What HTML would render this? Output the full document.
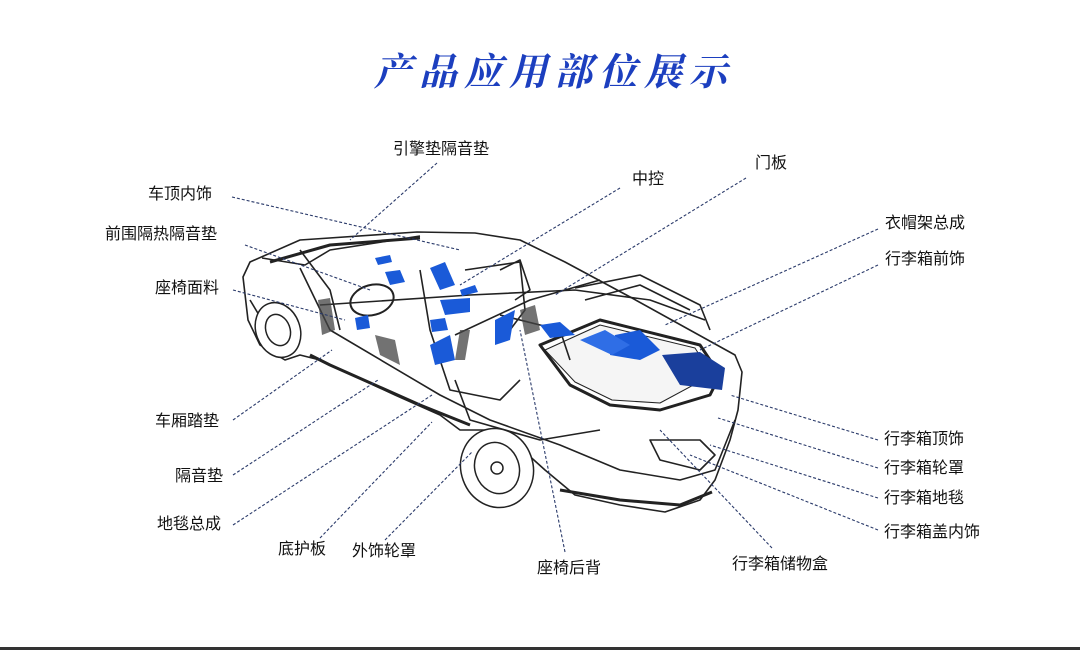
<!DOCTYPE html>
<html><head><meta charset="utf-8"><style>
html,body{margin:0;padding:0;background:#fff;}
body{width:1080px;height:650px;position:relative;overflow:hidden;}
svg{position:absolute;left:0;top:0;}
.t{font-family:"Liberation Sans","Noto Sans CJK SC",sans-serif;font-size:16px;fill:#111;}
</style></head><body>
<svg width="1080" height="650" viewBox="0 0 1080 650">
<text x="554" y="85" text-anchor="middle" font-family="'Noto Serif CJK SC','Liberation Serif',serif" font-weight="bold" font-style="italic" font-size="38" letter-spacing="7" fill="#1c3fbf">产品应用部位展示</text>

<!-- car -->
<g fill="none" stroke="#222" stroke-width="1.6" stroke-linejoin="round">
<path d="M243,277 L250,262 L300,240 L417,232 L475,233 L520,240 L565,262 L632,298 L735,355 L742,372 L738,410 L730,440 L715,480 L700,500 L665,512 L620,505 L575,495 L545,470 L525,452 L490,430 L460,430 L440,415 L395,395 L320,360 L300,355 L285,360 L260,345 L248,320 Z" fill="#fff"/>
<path d="M262,258 L305,265 L330,250 L420,236" />
<path d="M270,262 L330,245 L420,238" stroke-width="3"/>
<path d="M300,268 L330,330 L440,395 L490,420 L560,445 L620,470 L680,480 L715,470 L735,420"/>
<path d="M320,305 L470,295 L575,290 L650,300 L705,320"/>
<path d="M455,335 L530,300 L600,280"/>
<path d="M540,345 L600,320 L700,345 L720,375 L710,395 L660,410 L610,405 L570,385 Z" stroke-width="3"/>
<path d="M545,350 L600,325 L695,348 L712,375 L660,403 L612,400 L575,382 Z" fill="#f5f5f5" stroke-width="1"/>
<path d="M575,288 L640,275 L700,305 L710,330"/>
<path d="M585,300 L640,285 L690,310"/>
<path d="M310,355 L330,365 L420,405 L470,425" stroke-width="3"/>
<path d="M560,490 L620,500 L680,505 L712,492" stroke-width="3"/>
<path d="M420,270 L430,330 L450,390 L500,400 L520,380"/>
<path d="M465,270 L520,262 L525,310 L510,330"/>
<path d="M500,315 L560,330 L570,360"/>
<path d="M650,440 L700,440 L715,455 L700,470 L660,460 Z"/>
<path d="M455,380 L470,420 L540,440 L600,430"/>
<path d="M300,250 L330,290 L340,330"/>
<path d="M500,270 L520,260 L530,290 L515,300"/>
<path d="M250,300 L262,320 L300,330"/>
</g>
<!-- shading -->
<g fill="#444" opacity="0.75">
<path d="M318,300 L330,298 L335,330 L322,335 Z"/>
<path d="M520,310 L535,305 L540,330 L525,335 Z"/>
<path d="M460,330 L470,330 L465,360 L455,360 Z"/>
<path d="M375,335 L395,340 L400,365 L380,355 Z"/>
</g>
<!-- wheels -->
<g stroke="#222" fill="#fff" stroke-width="1.5">
<ellipse cx="278" cy="330" rx="22" ry="28" transform="rotate(-20 278 330)"/>
<ellipse cx="278" cy="330" rx="12" ry="16" transform="rotate(-20 278 330)"/>
<ellipse cx="497" cy="468" rx="36" ry="40" transform="rotate(-20 497 468)"/>
<ellipse cx="497" cy="468" rx="22" ry="26" transform="rotate(-20 497 468)"/>
<circle cx="497" cy="468" r="6"/>
</g>
<!-- steering wheel -->
<ellipse cx="372" cy="300" rx="22" ry="15" stroke="#222" fill="none" stroke-width="2" transform="rotate(-15 372 300)"/>
<!-- blue patches -->
<g fill="#1a5ad8">
<path d="M615,335 L640,330 L660,350 L640,360 L610,355 Z"/>
<path d="M580,340 L605,330 L630,345 L612,355 Z" fill="#2f6ee6"/>
<path d="M662,355 L700,352 L725,368 L722,390 L680,385 Z" fill="#1a3f9c"/>
<path d="M540,325 L560,322 L575,335 L550,338 Z"/>
<path d="M385,272 L400,270 L405,282 L390,285 Z"/>
<path d="M430,268 L445,262 L455,285 L440,290 Z"/>
<path d="M440,300 L470,298 L470,312 L445,315 Z"/>
<path d="M430,320 L445,318 L448,330 L432,332 Z"/>
<path d="M355,318 L368,315 L370,328 L357,330 Z"/>
<path d="M430,345 L450,335 L455,360 L435,365 Z"/>
<path d="M495,320 L515,310 L510,340 L495,345 Z"/>
<path d="M375,258 L390,255 L392,262 L378,265 Z"/>
<path d="M460,290 L475,285 L478,292 L462,296 Z"/>
</g>

<!-- leader lines -->
<g stroke="#2a3a6a" stroke-width="1.1" stroke-dasharray="3,2" fill="none">
<line x1="437" y1="163" x2="350" y2="240"/>
<line x1="232" y1="197" x2="460" y2="250"/>
<line x1="620" y1="188" x2="460" y2="285"/>
<line x1="746" y1="178" x2="555" y2="295"/>
<line x1="245" y1="245" x2="370" y2="290"/>
<line x1="878" y1="229" x2="665" y2="325"/>
<line x1="878" y1="265" x2="700" y2="350"/>
<line x1="233" y1="290" x2="345" y2="320"/>
<line x1="233" y1="420" x2="332" y2="350"/>
<line x1="233" y1="475" x2="378" y2="380"/>
<line x1="233" y1="525" x2="432" y2="395"/>
<line x1="320" y1="538" x2="432" y2="422"/>
<line x1="385" y1="540" x2="472" y2="452"/>
<line x1="565" y1="552" x2="520" y2="330"/>
<line x1="772" y1="548" x2="660" y2="430"/>
<line x1="878" y1="440" x2="730" y2="395"/>
<line x1="878" y1="468" x2="718" y2="418"/>
<line x1="878" y1="498" x2="710" y2="445"/>
<line x1="878" y1="530" x2="690" y2="455"/>
</g>

<!-- labels -->
<g class="t">
<text x="393" y="154" class="t">引擎垫隔音垫</text>
<text x="148" y="199" class="t">车顶内饰</text>
<text x="632" y="184" class="t">中控</text>
<text x="755" y="168" class="t">门板</text>
<text x="105" y="239" class="t">前围隔热隔音垫</text>
<text x="885" y="228" class="t">衣帽架总成</text>
<text x="885" y="264" class="t">行李箱前饰</text>
<text x="155" y="293" class="t">座椅面料</text>
<text x="155" y="426" class="t">车厢踏垫</text>
<text x="175" y="481" class="t">隔音垫</text>
<text x="157" y="529" class="t">地毯总成</text>
<text x="278" y="554" class="t">底护板</text>
<text x="352" y="556" class="t">外饰轮罩</text>
<text x="537" y="573" class="t">座椅后背</text>
<text x="732" y="569" class="t">行李箱储物盒</text>
<text x="884" y="444" class="t">行李箱顶饰</text>
<text x="884" y="473" class="t">行李箱轮罩</text>
<text x="884" y="503" class="t">行李箱地毯</text>
<text x="884" y="537" class="t">行李箱盖内饰</text>
</g>
<rect x="0" y="647" width="1080" height="3" fill="#333"/>
</svg>
</body></html>
